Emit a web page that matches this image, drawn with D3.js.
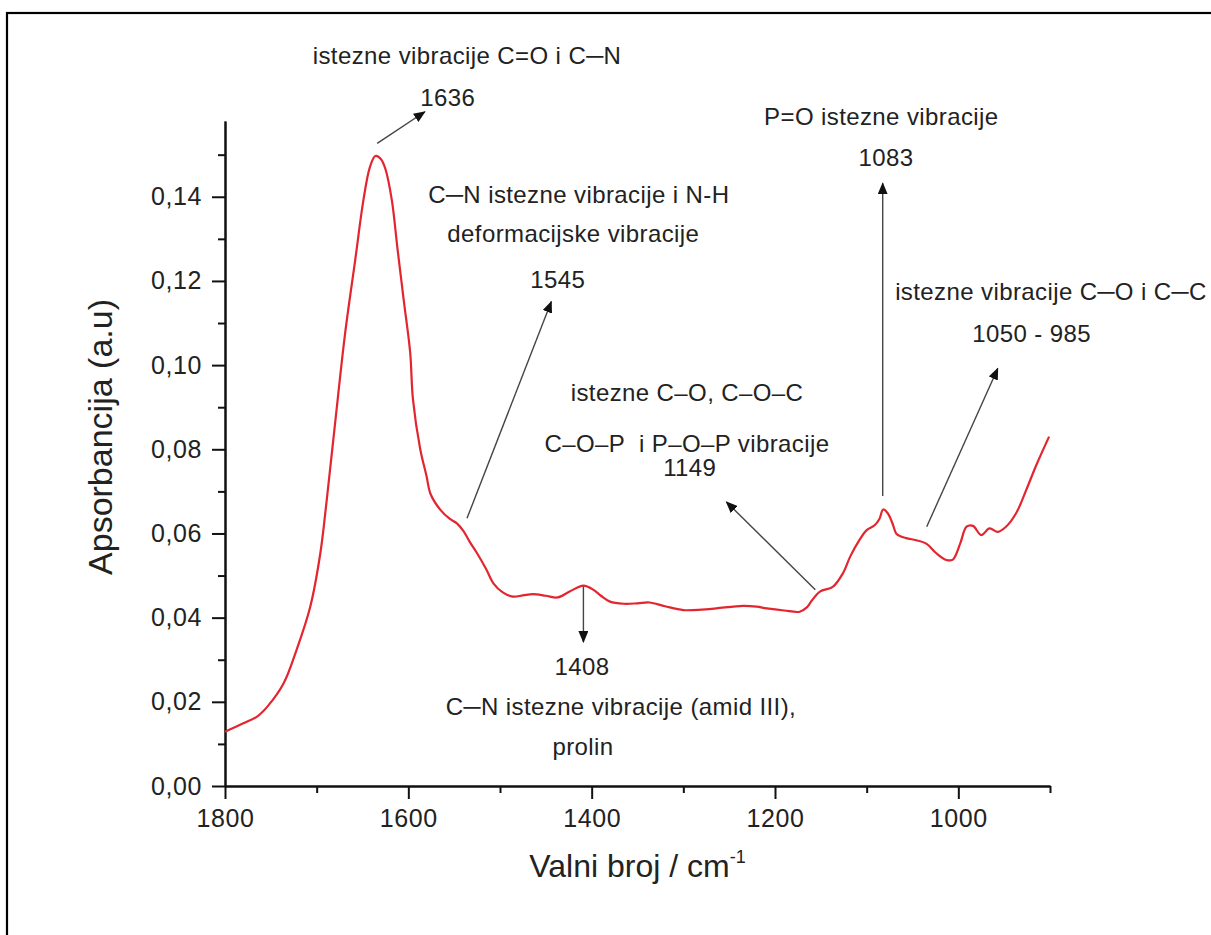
<!DOCTYPE html>
<html>
<head>
<meta charset="utf-8">
<script src="https://cdn.jsdelivr.net/npm/d3@7"></script>
<style>
  body { margin: 0; background: #fff; }
  text { font-family: "Liberation Sans", Arial, sans-serif; fill: #222; }
</style>
</head>
<body>
<svg id="chart" width="1211" height="935"></svg>
<script>
// spectrum (wavenumber cm-1, absorbance)
const wavenumbers = [1800,1780,1765,1754,1736,1722,1707,1696,1689,1680,1669,1658,1649,1642,1636,1630,1625,1618,1612,1605,1598,1595,1587,1580,1576,1565,1555,1547,1540,1533,1525,1515,1507,1497,1486,1475,1464,1450,1437,1424,1409,1398,1390,1380,1365,1350,1337,1320,1300,1280,1264,1235,1220,1209,1190,1173,1165,1160,1151,1137,1126,1118,1108,1100,1091,1086,1082,1077,1072,1067,1057,1046,1035,1024,1013,1006,998,991,984,975,966,957,948,937,926,915,901];
const absorbance = [0.0129,0.0149,0.0165,0.0188,0.0244,0.0323,0.0426,0.0553,0.0680,0.0860,0.1075,0.1249,0.1392,0.1470,0.1497,0.1490,0.1466,0.1392,0.1280,0.1154,0.1030,0.0920,0.0800,0.0735,0.0695,0.0656,0.0635,0.0624,0.0606,0.0580,0.0553,0.0515,0.0481,0.0460,0.0450,0.0453,0.0456,0.0452,0.0448,0.0462,0.0476,0.0466,0.0452,0.0438,0.0433,0.0434,0.0436,0.0427,0.0418,0.0419,0.0422,0.0428,0.0426,0.0422,0.0417,0.0414,0.0425,0.0440,0.0462,0.0473,0.0505,0.0545,0.0584,0.0608,0.0620,0.0635,0.0657,0.0648,0.0625,0.0598,0.0589,0.0584,0.0576,0.0553,0.0537,0.0538,0.0576,0.0616,0.0618,0.0596,0.0612,0.0604,0.0616,0.0648,0.0703,0.0762,0.0830];

const xMajorTicks = [1800,1600,1400,1200,1000];
const xMinorTicks = [1700,1500,1300,1100,900];
const yMajorTicks = [0,0.02,0.04,0.06,0.08,0.10,0.12,0.14];
const yMinorTicks = [0.01,0.03,0.05,0.07,0.09,0.11,0.13,0.15];

// annotations: text lines (centre wavenumber, baseline absorbance) and arrows from curve to label
const notes = [
  {lines:["istezne vibracije C=O i C\u2500N"], cx:[1536], ys:[0.1715]},
  {lines:["1636"], cx:[1557], ys:[0.1616], arrow:[[1634,0.1527],[1582,0.1602]]},
  {lines:["C\u2500N istezne vibracije i N-H","deformacijske vibracije"], cx:[1414,1420], ys:[0.1385,0.1292]},
  {lines:["1545"], cx:[1437], ys:[0.1183], arrow:[[1536,0.0636],[1444,0.1151]]},
  {lines:["istezne C\u2013O, C\u2013O\u2013C","C\u2013O\u2013P  i P\u2013O\u2013P vibracije"], cx:[1296,1296], ys:[0.0915,0.0794]},
  {lines:["1149"], cx:[1293], ys:[0.0736], arrow:[[1156,0.0466],[1253,0.0675]]},
  {lines:["P=O istezne vibracije"], cx:[1084], ys:[0.1570]},
  {lines:["1083"], cx:[1079], ys:[0.1473], arrow:[[1082.5,0.0689],[1082.5,0.1432]]},
  {lines:["istezne vibracije C\u2500O i C\u2500C"], cx:[899], ys:[0.1155]},
  {lines:["1050 - 985"], cx:[920], ys:[0.1055], arrow:[[1034.5,0.0616],[957,0.0992]]},
  {lines:["1408"], cx:[1410.5], ys:[0.0264], arrow:[[1409,0.0474],[1409,0.0342]]},
  {lines:["C\u2500N istezne vibracije (amid III),","prolin"], cx:[1368,1409.5], ys:[0.0169,0.0074]}
];

const svg = d3.select("#chart");
const plotLeft = 225, plotRight = 1050, plotTop = 121, plotBottom = 786;

const x = d3.scaleLinear().domain([1800, 900]).range([plotLeft, plotRight]);
const y = d3.scaleLinear().domain([0, 0.158]).range([plotBottom, plotTop]);

// frame round the figure
svg.append("rect")
  .attr("x", 7).attr("y", 13)
  .attr("width", 1260).attr("height", 1000)
  .attr("fill", "none").attr("stroke", "#000").attr("stroke-width", 2.2);

const fmt = d => d3.format(".2f")(d).replace(".", ",");

// minor ticks first, then major with labels
svg.append("g").attr("transform", `translate(0,${plotBottom})`)
  .call(d3.axisBottom(x).tickValues(xMinorTicks).tickSize(7).tickSizeOuter(0).tickFormat(""));
svg.append("g").attr("transform", `translate(0,${plotBottom})`)
  .call(d3.axisBottom(x).tickValues(xMajorTicks).tickSize(13).tickSizeOuter(0).tickPadding(10).tickFormat(d3.format("d")));

svg.append("g").attr("transform", `translate(${plotLeft},0)`)
  .call(d3.axisLeft(y).tickValues(yMinorTicks).tickSize(7).tickSizeOuter(0).tickFormat(""));
svg.append("g").attr("transform", `translate(${plotLeft},0)`)
  .call(d3.axisLeft(y).tickValues(yMajorTicks).tickSize(13).tickSizeOuter(0).tickPadding(10).tickFormat(fmt));

svg.selectAll(".domain").attr("stroke", "#111").attr("stroke-width", 2);
svg.selectAll(".tick line").attr("stroke", "#111").attr("stroke-width", 2);
svg.selectAll(".tick text")
  .attr("font-family", '"Liberation Sans", Arial, sans-serif')
  .attr("font-size", 25).attr("letter-spacing", 0.6).attr("fill", "#222");

// axis titles
const xt = svg.append("text")
  .attr("x", (plotLeft + plotRight) / 2).attr("y", 877)
  .attr("text-anchor", "middle").attr("font-size", 32);
xt.append("tspan").text("Valni broj / cm");
xt.append("tspan").attr("font-size", 18).attr("dy", -14).text("-1");

svg.append("text")
  .attr("transform", "translate(112,437) rotate(-90)")
  .attr("text-anchor", "middle").attr("font-size", 34)
  .text("Apsorbancija (a.u)");

// spectrum
const data = wavenumbers.map((w, i) => ({w: w, a: absorbance[i]}));
svg.append("path")
  .datum(data)
  .attr("fill", "none")
  .attr("stroke", "#e2252f")
  .attr("stroke-width", 2.2)
  .attr("d", d3.line().x(d => x(d.w)).y(d => y(d.a)).curve(d3.curveCatmullRom.alpha(0.5)));

// arrow heads
svg.append("defs").append("marker")
  .attr("id", "head")
  .attr("viewBox", "0 0 12 10")
  .attr("refX", 11).attr("refY", 5)
  .attr("markerWidth", 12).attr("markerHeight", 10)
  .attr("markerUnits", "userSpaceOnUse")
  .attr("orient", "auto")
  .append("path").attr("d", "M0,0 L12,5 L0,10 Z").attr("fill", "#111");

notes.forEach(n => {
  if (n.arrow) {
    svg.append("line")
      .attr("x1", x(n.arrow[0][0])).attr("y1", y(n.arrow[0][1]))
      .attr("x2", x(n.arrow[1][0])).attr("y2", y(n.arrow[1][1]))
      .attr("stroke", "#444").attr("stroke-width", 1.4)
      .attr("marker-end", "url(#head)");
  }
  n.lines.forEach((t, i) => {
    svg.append("text")
      .attr("x", x(n.cx[i])).attr("y", y(n.ys[i]))
      .attr("text-anchor", "middle").attr("font-size", 24)
      .attr("letter-spacing", 0.4)
      .style("white-space", "pre")
      .text(t);
  });
});
</script>
</body>
</html>
